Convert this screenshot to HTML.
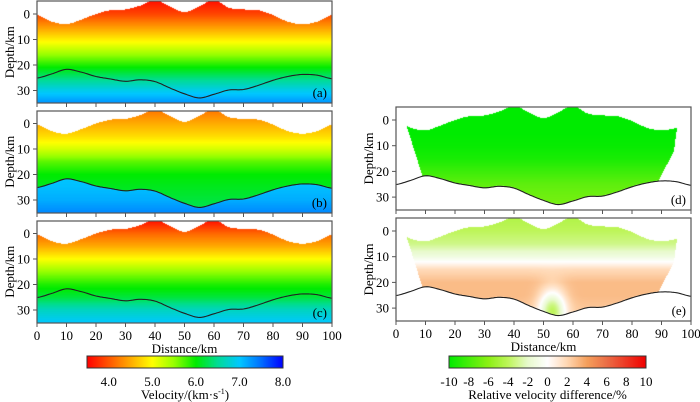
<!DOCTYPE html>
<html><head><meta charset="utf-8">
<style>
html,body{margin:0;padding:0;background:#fff;}
#wrap{position:relative;width:700px;height:402px;overflow:hidden;font-family:"Liberation Serif",serif;}
canvas{position:absolute;left:0;top:0;}
svg{position:absolute;left:0;top:0;}
</style></head>
<body>
<div id="wrap">
<canvas id="cv" width="700" height="402"></canvas>
<svg id="sv" width="700" height="402" xmlns="http://www.w3.org/2000/svg"></svg>
</div>
<script>
// ---- data ----
const nodeX = [0,5,10,15,20,25,30,35,40,45,50,55,60,65,70,75,80,85,90,95,100];
const topoDepth = [0.4,3,4,2.2,0,-1.5,-1.8,-3.3,-5.5,-3,-0.7,-3,-5.5,-2.5,-1.8,-1.5,0.4,3,4,3,0.4];
const mohoDepth = [25.1,23.5,21.7,22.8,24.5,25.5,26.4,25.8,26.5,29,31.3,32.9,31.5,29.8,29.6,28,26,24.5,23.7,24,25.4];
const profDepth = [-5,0,5,10,15,20,25,30,35];
const velA = [3.6,3.9,4.4,4.9,5.4,5.9,6.4,6.9,7.3];
const velB = [4.2,4.5,4.8,5.2,5.7,6.0,6.1,6.2,6.3];
const velBMantle = [7.0,7.0,7.0,7.0,7.0,7.0,7.05,7.15,7.35];
const velC = [3.6,4.1,4.5,5.0,5.5,5.9,6.2,6.7,7.0];
const diffD = [-10,-10,-10,-9.8,-9.3,-8.3,-7.3,-6.8,-6.5];
const diffE = [-4.5,-4,-3.2,-1.2,1.8,3,3,2.6,2.2];
const xTicks = [0,10,20,30,40,50,60,70,80,90,100];
const yTicks = [0,10,20,30];
const velTicks = [4.0,5.0,6.0,7.0,8.0];
const diffTicks = [-10,-8,-6,-4,-2,0,2,4,6,8,10];
const leftEdge = [[3.6,2.3],[9,22]];
const rightEdge = [[95.3,2.6],[94.2,12.3],[89,23.5]];

// ---- helpers ----
function interpSmooth(xs, ys, x){
  let i = Math.max(0, Math.min(xs.length-2, Math.floor((x-xs[0])/(xs[1]-xs[0]))));
  const t = (x-xs[i])/(xs[i+1]-xs[i]);
  const p0=ys[Math.max(0,i-1)],p1=ys[i],p2=ys[i+1],p3=ys[Math.min(ys.length-1,i+2)];
  const t2=t*t,t3=t2*t;
  return 0.5*((2*p1)+(-p0+p2)*t+(2*p0-5*p1+4*p2-p3)*t2+(-p0+3*p1-3*p2+p3)*t3);
}
function interpLin(xs, ys, x){
  if(x<=xs[0]) return ys[0];
  for(let i=0;i<xs.length-1;i++){ if(x<=xs[i+1]){const t=(x-xs[i])/(xs[i+1]-xs[i]);return ys[i]+(ys[i+1]-ys[i])*t;} }
  return ys[ys.length-1];
}
function cmap(stops, v){
  if(v<=stops[0][0]) return stops[0].slice(1);
  for(let i=0;i<stops.length-1;i++){
    if(v<=stops[i+1][0]){const t=(v-stops[i][0])/(stops[i+1][0]-stops[i][0]);
      return [0,1,2].map(k=>stops[i][k+1]+(stops[i+1][k+1]-stops[i][k+1])*t);}
  }
  return stops[stops.length-1].slice(1);
}
const velStops=[[3.5,255,0,0],[4.2,255,120,0],[5.0,255,255,0],[5.5,150,255,0],[6.0,0,235,0],[6.5,0,220,150],[7.0,0,200,255],[7.5,0,110,255],[8.0,0,0,255]];
const diffStops=[[-10,0,235,0],[-6,140,240,20],[-4,190,245,90],[-2,232,250,205],[0,255,255,255],[2,255,215,178],[4,245,160,92],[6,235,110,70],[10,240,0,0]];

const panels=[
 {id:'a',x0:37,y0:14,k:2.55,kind:'vel',prof:velA,label:'(a)'},
 {id:'b',x0:37,y0:123.5,k:2.55,kind:'vel',prof:velB,mantle:velBMantle,label:'(b)'},
 {id:'c',x0:37,y0:233.5,k:2.55,kind:'vel',prof:velC,label:'(c)',xlab:true},
 {id:'d',x0:396,y0:120,k:2.57,kind:'diff',prof:diffD,label:'(d)'},
 {id:'e',x0:396,y0:231,k:2.57,kind:'diff',prof:diffE,label:'(e)',xlab:true,blob:true}
];
const W=295;
const cv=document.getElementById('cv'),ctx=cv.getContext('2d');
const img=ctx.createImageData(700,402);
const NS='http://www.w3.org/2000/svg';
const sv=document.getElementById('sv');
function mk(tag,attrs,parent){const e=document.createElementNS(NS,tag);for(const a in attrs)e.setAttribute(a,attrs[a]);(parent||sv).appendChild(e);return e;}

panels.forEach(p=>{
  const sx=d=>p.x0+d/100*W, sy=z=>p.y0+z*p.k;
  const top=Math.round(sy(-5)), bot=Math.round(sy(35));
  for(let px=p.x0;px<p.x0+W;px++){
    const d=(px+0.5-p.x0)/W*100;
    const tz=interpSmooth(nodeX,topoDepth,d);
    const mz=interpSmooth(nodeX,mohoDepth,d);
    let zmin=tz, zmax=35;
    if(p.kind==='diff'){
      if(d<leftEdge[0][0]||d>rightEdge[0][0]) continue;
      if(d<leftEdge[1][0]) zmax=Math.min(zmax,interpLin(leftEdge.map(q=>q[0]),leftEdge.map(q=>q[1]),d));
      if(d>rightEdge[2][0]) zmax=Math.min(zmax,interpLin(rightEdge.map(q=>q[0]).reverse(),rightEdge.map(q=>q[1]).reverse(),d));
      zmax=Math.min(zmax,mz);
    }
    for(let py=top;py<bot;py++){
      const z=(py+0.5-p.y0)/p.k;
      if(z<zmin||z>zmax) continue;
      let col;
      if(p.kind==='vel'){
        let v=(p.mantle&&z>mz)?interpLin(profDepth,p.mantle,z):interpLin(profDepth,p.prof,z);
        col=cmap(velStops,v);
      }else{
        let v=interpLin(profDepth,p.prof,z);
        if(p.blob) v+=-6.5*Math.exp(-Math.pow((d-53)/4.5,2)-Math.pow((z-31)/8,2));
        col=cmap(diffStops,v);
      }
      const i=(py*700+px)*4;
      img.data[i]=col[0];img.data[i+1]=col[1];img.data[i+2]=col[2];img.data[i+3]=255;
    }
  }
  const g=mk('g',{});
  
  
  let pts=[];
  for(let d=0;d<=100;d+=0.5) pts.push(sx(d).toFixed(1)+','+sy(interpSmooth(nodeX,mohoDepth,d)).toFixed(1));
  const ml=mk('polyline',{points:pts.join(' '),fill:'none',stroke:'#222','stroke-width':1.1},g);
  
  
  const fr=mk('rect',{x:p.x0,y:top,width:W,height:bot-top,fill:'none',stroke:'#555','stroke-width':1.2},g);
  
  
  yTicks.forEach(t=>{
    mk('line',{x1:p.x0-4,x2:p.x0,y1:sy(t),y2:sy(t),stroke:'#555'},g);
    const tl=mk('text',{x:p.x0-7,y:sy(t)+4.5,'text-anchor':'end','font-size':13},g);
    tl.textContent=t;
    
    
  });
  xTicks.forEach(t=>{
    mk('line',{x1:sx(t),x2:sx(t),y1:bot,y2:bot+4,stroke:'#555'},g);
    if(p.xlab){
      const tl=mk('text',{x:sx(t),y:bot+17,'text-anchor':'middle','font-size':13},g);
      tl.textContent=t;
      
      
    }
  });
  const yt=mk('text',{x:0,y:0,'text-anchor':'middle','font-size':13,transform:`translate(${p.x0-23},${sy(15)}) rotate(-90)`},g);
  yt.textContent='Depth/km';
  
  
  const pl=mk('text',{x:p.x0+W-5,y:bot-6,'text-anchor':'end','font-size':13},g);
  pl.textContent=p.label;
  
  
  if(p.xlab){
    const xt=mk('text',{x:p.x0+W/2,y:bot+30,'text-anchor':'middle','font-size':13},g);
    xt.textContent='Distance/km';
    
    
  }
});

function colorbar(x0,x1,vmin,vmax,stops,ticks,fmt,title,name){
  for(let px=Math.round(x0);px<Math.round(x1);px++){
    const v=vmin+(px+0.5-x0)/(x1-x0)*(vmax-vmin);
    const c=cmap(stops,v);
    for(let py=356;py<368;py++){const i=(py*700+px)*4;img.data[i]=c[0];img.data[i+1]=c[1];img.data[i+2]=c[2];img.data[i+3]=255;}
  }
  const g=mk('g',{});
  
  
  mk('rect',{x:x0,y:356,width:x1-x0,height:12,fill:'none',stroke:'#333','stroke-width':1},g);
  ticks.forEach(t=>{
    const x=x0+(t-vmin)/(vmax-vmin)*(x1-x0);
    const tl=mk('text',{x:x,y:386,'text-anchor':'middle','font-size':13},g);
    tl.textContent=fmt(t);
    
    
  });
  const tt=mk('text',{x:(x0+x1)/2,y:399,'text-anchor':'middle','font-size':13},g);
  tt.innerHTML=title;
  
  
}
colorbar(87,283,3.5,8.0,velStops,velTicks,t=>t.toFixed(1),'Velocity/(km·s<tspan dy="-5" font-size="8">-1</tspan><tspan dy="5">)</tspan>','velocity-colorbar');
colorbar(449,646,-10,10,diffStops,diffTicks,t=>String(t),'Relative velocity difference/%','difference-colorbar');
ctx.putImageData(img,0,0);
</script>
</body></html>
